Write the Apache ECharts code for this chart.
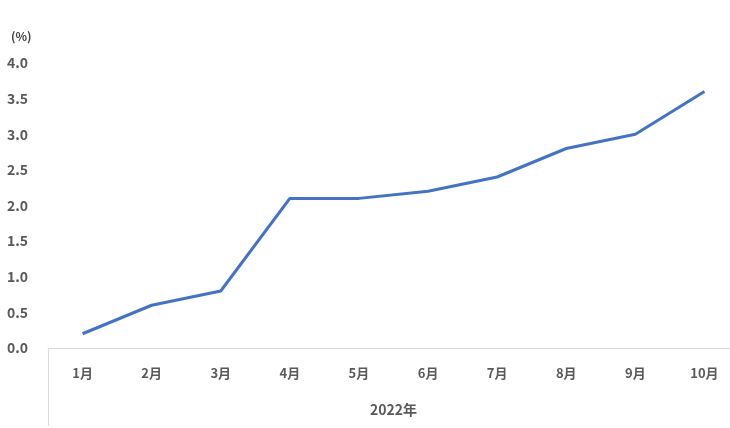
<!DOCTYPE html>
<html><head><meta charset="utf-8">
<script src="https://cdn.jsdelivr.net/npm/echarts@6/dist/echarts.min.js"></script>
<style>html,body{margin:0;padding:0;background:#fff;overflow:hidden}#c{width:740px;height:428px}</style>
</head><body><div id="c"></div>
<script>
const categories = ['1月','2月','3月','4月','5月','6月','7月','8月','9月','10月'];
const values = [0.2, 0.6, 0.8, 2.1, 2.1, 2.2, 2.4, 2.8, 3.0, 3.6];
const groupLabels = ['2022年'];
const unitLabel = '(%)';

const font = '"Noto Sans CJK JP", "Noto Sans", sans-serif';
const chart = echarts.init(document.getElementById('c'));
chart.setOption({
  animation: false,
  title: { text: unitLabel, left: 6, top: 25, textStyle: { fontSize: 12, fontWeight: 'bold', color: '#404040', fontFamily: font } },
  grid: { left: 48, top: 63, width: 691, height: 285 },
  xAxis: [{
    type: 'category', data: categories, boundaryGap: true,
    axisLine: { lineStyle: { color: '#d9d9d9', width: 1 } },
    axisTick: { show: false },
    axisLabel: { margin: 19, fontSize: 13, fontWeight: 'bold', color: '#595959', fontFamily: font }
  }, {
    type: 'category', data: groupLabels, position: 'bottom', boundaryGap: true,
    axisLine: { show: false },
    axisTick: { show: true, length: 78, lineStyle: { color: '#d9d9d9' } },
    axisLabel: { margin: 55, fontSize: 14, fontWeight: 'bold', color: '#595959', fontFamily: font }
  }],
  yAxis: {
    type: 'value', min: 0, max: 4, interval: 0.5,
    axisLine: { show: false }, axisTick: { show: false },
    splitLine: { show: false },
    axisLabel: { margin: 20, fontSize: 14, fontWeight: 'bold', color: '#595959', fontFamily: font,
      formatter: v => v.toFixed(1) }
  },
  series: [{
    type: 'line', data: values, showSymbol: false, symbol: 'none',
    lineStyle: { color: '#4472C4', width: 3 }
  }]
});
</script></body></html>
